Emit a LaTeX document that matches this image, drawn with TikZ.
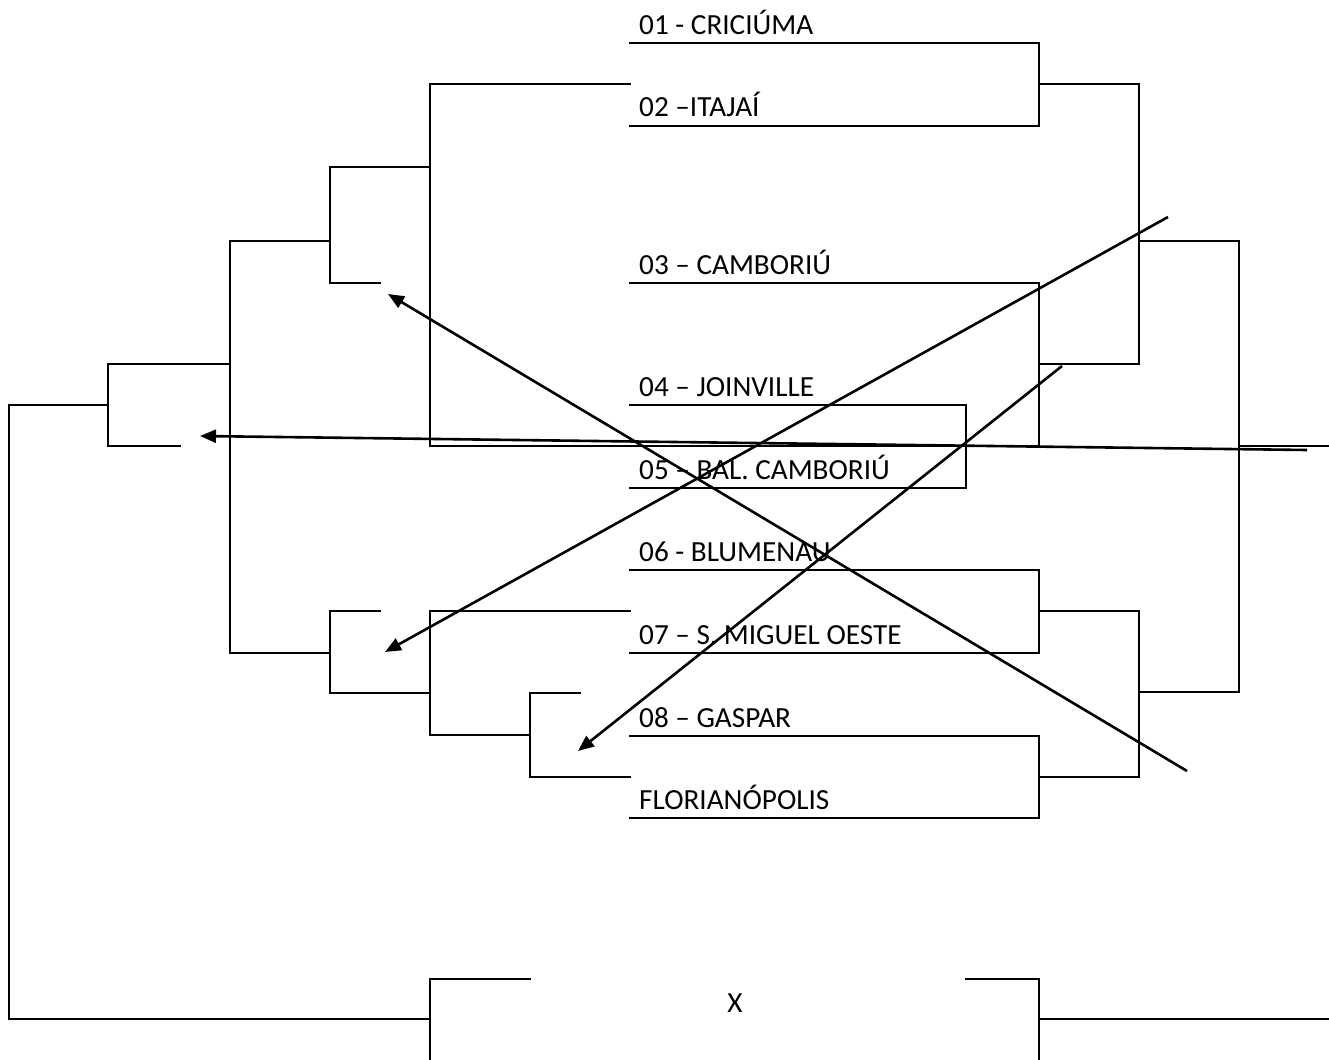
\documentclass[tikz,border=0pt]{standalone}
\usepackage{fontspec}
\setmainfont{Carlito}
\usetikzlibrary{arrows.meta}
\begin{document}
\begin{tikzpicture}[x=1pt,y=-1pt,
  br/.style={line width=2.6pt,line cap=rect,line join=miter},
  arr/.style={line width=2.6pt,-{Triangle[length=16pt,width=13pt]}},
  team/.style={anchor=base west,inner sep=0pt,font=\fontsize{29.2}{33}\selectfont}]
\useasboundingbox (0,0) rectangle (1329,1059);
% team labels
\node[team] (t1) at (639,35) {01 - CRICIÚMA};
\node[team] (t2) at (639,117) {02 –ITAJAÍ};
\node[team] (t3) at (639,274) {03 – CAMBORIÚ};
\node[team] (t4) at (639,396) {04 – JOINVILLE};
\node[team] (t5) at (639,479) {05 – BAL. CAMBORIÚ};
\node[team] (t6) at (639,561) {06 - BLUMENAU};
\node[team] (t7) at (639,644) {07 – S. MIGUEL OESTE};
\node[team] (t8) at (639,727) {08 – GASPAR};
\node[team] (t9) at (639,809) {FLORIANÓPOLIS};
\node[team,anchor=base] (tx) at (735,1012) {X};
% right side brackets
\draw[br] (630,43) -- (1039,43) -- (1039,126) -- (630,126);
\draw[br] (1039,84) -- (1139,84);
\draw[br] (630,405) -- (966,405) -- (966,488) -- (630,488);
\draw[br] (630,283) -- (1039,283) -- (1039,446);
\draw[br] (1039,364) -- (1139,364);
\draw[br] (1139,84) -- (1139,364);
\draw[br] (1139,241) -- (1239,241) -- (1239,692) -- (1139,692);
\draw[br] (1239,446) -- (1329,446);
\draw[br] (630,570) -- (1039,570) -- (1039,653) -- (630,653);
\draw[br] (1039,611) -- (1139,611);
\draw[br] (630,736) -- (1039,736) -- (1039,818) -- (630,818);
\draw[br] (1039,777) -- (1139,777);
\draw[br] (1139,611) -- (1139,777);
% left side brackets
\draw[br] (630,84) -- (430,84) -- (430,446) -- (1039,446);
\draw[br] (430,167) -- (330,167) -- (330,283) -- (380,283);
\draw[br] (330,241) -- (230,241) -- (230,653) -- (330,653);
\draw[br] (230,364) -- (108,364) -- (108,446) -- (180,446);
\draw[br] (108,405) -- (9,405) -- (9,1019) -- (430,1019);
\draw[br] (380,611) -- (330,611) -- (330,693) -- (430,693);
\draw[br] (630,611) -- (430,611) -- (430,735) -- (530,735);
\draw[br] (580,693) -- (530,693) -- (530,777) -- (630,777);
% final
\draw[br] (530,979) -- (430,979) -- (430,1059);
\draw[br] (966,979) -- (1039,979) -- (1039,1059);
\draw[br] (1039,1019) -- (1329,1019);
% arrows
\coordinate (a1s) at (1187,771); \coordinate (a1e) at (388,294);
\coordinate (a2s) at (1168,217); \coordinate (a2e) at (385,652);
\coordinate (a3s) at (1062,366); \coordinate (a3e) at (578,751);
\coordinate (a4s) at (1307,450); \coordinate (a4e) at (200,436);
\draw[arr] (a1s) -- (a1e);
\draw[arr] (a2s) -- (a2e);
\draw[arr] (a3s) -- (a3e);
\draw[arr] (a4s) -- (a4e);
\end{tikzpicture}
\end{document}
